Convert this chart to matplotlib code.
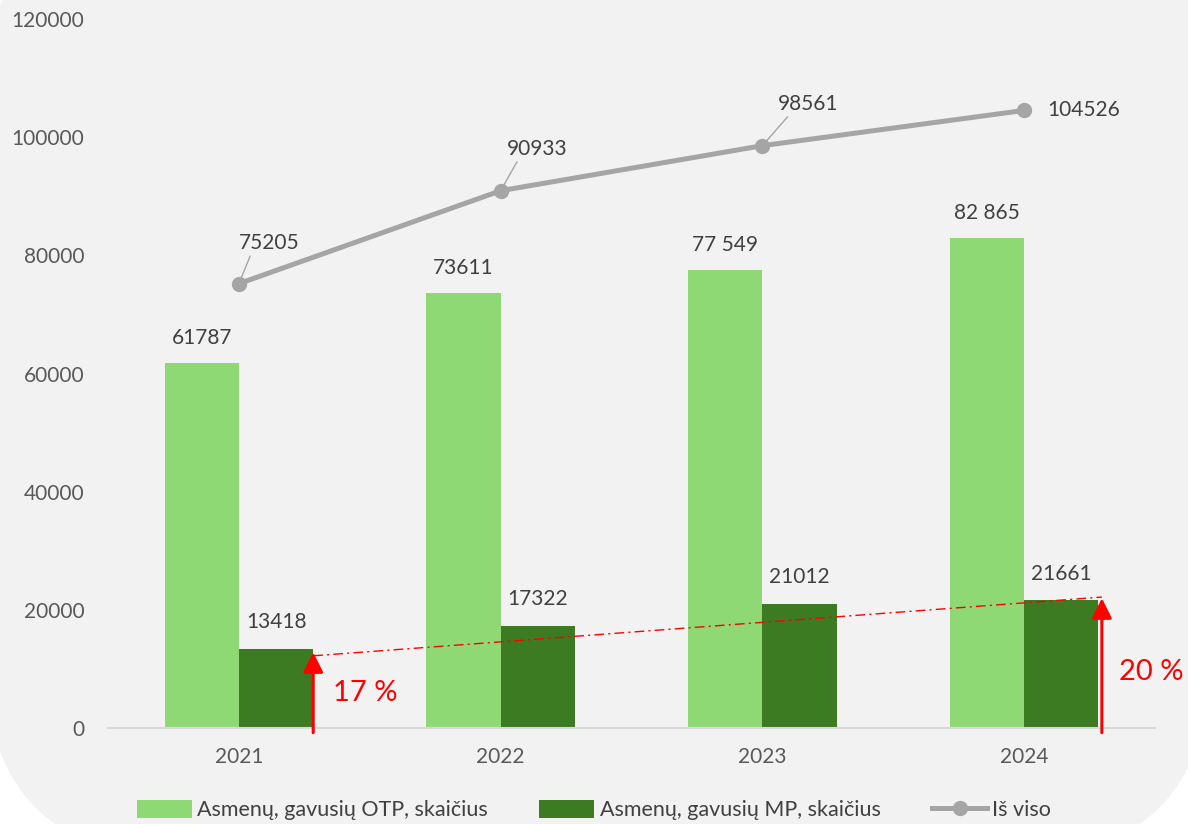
import numpy as np
import matplotlib.pyplot as plt
from matplotlib.patches import FancyBboxPatch, Patch
from matplotlib.lines import Line2D

plt.rcParams['font.family'] = ['Lato', 'DejaVu Sans']

# data
years = ['2021', '2022', '2023', '2024']
otp = [61787, 73611, 77549, 82865]
mp = [13418, 17322, 21012, 21661]
total = [75205, 90933, 98561, 104526]
otp_labels = ['61787', '73611', '77 549', '82 865']
mp_labels = ['13418', '17322', '21012', '21661']
total_labels = ['75205', '90933', '98561', '104526']
share_labels = ['17 %', '20 %']
legend_labels = ['Asmenų, gavusių OTP, skaičius', 'Asmenų, gavusių MP, skaičius', 'Iš viso']

light = '#8FD975'
dark = '#3D7B22'
grey = '#A5A5A5'
txt = '#404040'

fig = plt.figure(figsize=(11.88, 8.24), dpi=100, facecolor='white')

# rounded grey card behind everything (pixel coords)
bg = FancyBboxPatch((-15 + 200, -33 + 200), 1225 - 400, 956 - 400,
                    boxstyle='round,pad=200', transform=None,
                    facecolor='#F2F2F2', edgecolor='none', zorder=-10)
fig.patches.append(bg)

ax = fig.add_axes([108 / 1188, 1 - 728 / 824, (1155 - 108) / 1188, (728 - 19) / 824])
ax.set_facecolor('none')

x = np.arange(len(years))
w = 0.284
ax.bar(x - w / 2, otp, w, color=light, zorder=2)
ax.bar(x + w / 2, mp, w, color=dark, zorder=2)
ax.plot(x, total, color=grey, lw=3.6, marker='o', ms=10, zorder=4, solid_capstyle='round')

ax.set_xlim(-0.5, 3.5)
ax.set_ylim(0, 120000)
ax.set_yticks(np.arange(0, 120001, 20000))
ax.set_xticks(x)
ax.set_xticklabels(years)
ax.tick_params(axis='both', length=0, labelsize=15, labelcolor='#595959')
ax.tick_params(axis='y', pad=17)
ax.tick_params(axis='x', pad=14)
for s in ['top', 'right', 'left']:
    ax.spines[s].set_visible(False)
ax.spines['bottom'].set_color('#D9D9D9')
ax.spines['bottom'].set_linewidth(1.5)

# bar labels
for i in range(len(years)):
    ax.annotate(otp_labels[i], (x[i] - w / 2, otp[i]), xytext=(0, 18), textcoords='offset points',
                ha='center', va='center', fontsize=15, color=txt)
    ax.annotate(mp_labels[i], (x[i] + w / 2, mp[i]), xytext=(0, 19), textcoords='offset points',
                ha='center', va='center', fontsize=15, color=txt)

# line labels with leader lines
offs = [(22, 29), (26, 30), (33, 30), (43, 0)]
for i in range(len(years)):
    ap = None
    if i < 3:
        ap = dict(arrowstyle='-', color=grey, lw=1, shrinkA=0, shrinkB=5, relpos=(0.2, 0.0))
    ax.annotate(total_labels[i], (x[i], total[i]), xytext=offs[i], textcoords='offset points',
                ha='center', va='center', fontsize=15, color=txt, arrowprops=ap, zorder=5)

# red arrows and trend line
arrow_x = [x[0] + w, x[-1] + w + 0.013]
arrow_y = [mp[0] - 600, mp[-1] + 300]
for ax_x, ax_y in zip(arrow_x, arrow_y):
    ax.annotate('', xy=(ax_x, ax_y), xytext=(ax_x, -800), annotation_clip=False,
                arrowprops=dict(arrowstyle='-|>,head_width=0.3,head_length=0.6', color='red',
                                lw=2.2, shrinkA=0, shrinkB=0, mutation_scale=20), zorder=6)
ax.plot([arrow_x[0], arrow_x[1]], [arrow_y[0] - 600, arrow_y[1] + 200], color='red', lw=1,
        linestyle=(0, (7, 3, 1.5, 3)), zorder=5, clip_on=False)
ax.annotate(share_labels[0], (arrow_x[0], 0), xytext=(14, 25), textcoords='offset points',
            ha='left', va='center', fontsize=21, color='red')
ax.annotate(share_labels[1], (arrow_x[1], 0), xytext=(12, 40), textcoords='offset points',
            ha='left', va='center', fontsize=21, color='red', annotation_clip=False)

handles = [Patch(facecolor=light, edgecolor='none'),
           Patch(facecolor=dark, edgecolor='none'),
           Line2D([0], [0], color=grey, lw=3.6, marker='o', ms=10)]
fig.legend(handles, legend_labels, loc='center', bbox_to_anchor=(0.5, 1 - 810 / 824), ncol=3,
           frameon=False, fontsize=15.5, labelcolor=txt, handlelength=2.55, handleheight=0.9,
           handletextpad=0.25, columnspacing=2.4)

fig.savefig('out.png', dpi=100, facecolor='white')
